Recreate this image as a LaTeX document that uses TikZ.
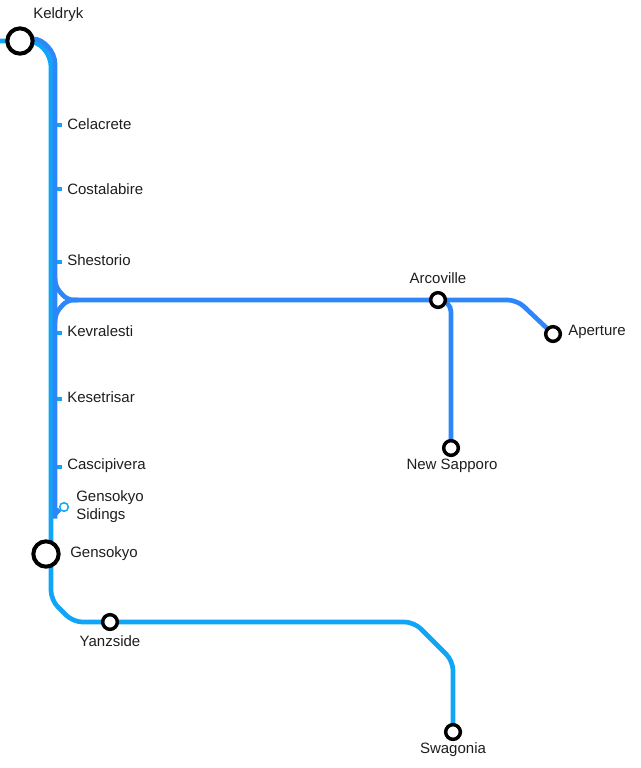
\documentclass[tikz,border=0pt]{standalone}
\usepackage{fontspec}
\setmainfont{Liberation Sans}
\definecolor{lb}{RGB}{16,165,245}
\definecolor{db}{RGB}{45,135,250}
\definecolor{txt}{RGB}{30,30,30}
\pgfdeclarelayer{bg}
\pgfsetlayers{bg,main}
\begin{document}
\begin{tikzpicture}[x=0.75pt,y=-0.75pt,
  lline/.style={draw=lb,line width=3.5pt,rounded corners=7pt},
  dline/.style={draw=db,line width=3.5pt,rounded corners=7pt},
  tick/.style={draw=lb,line width=3pt},
  bigst/.style={circle,draw=black,line width=3pt,fill=white,minimum size=19pt,inner sep=0pt},
  smst/.style={circle,draw=black,line width=2.6pt,fill=white,minimum size=11pt,inner sep=0pt},
  sidst/.style={circle,draw=lb,line width=1.1pt,fill=white,minimum size=6.5pt,inner sep=0pt},
  lbl/.style={text=txt,font=\fontsize{11.25}{13.5}\selectfont,inner sep=0pt},
]
\useasboundingbox (0,0) rectangle (640,768);

% stations
\node[bigst] (kel) at (20,41) {};
\node[bigst] (gen) at (46,554) {};
\node[smst] (arc) at (438,300) {};
\node[smst] (ape) at (553,334) {};
\node[smst] (nsp) at (451,448) {};
\node[smst] (yan) at (110,622) {};
\node[smst] (swa) at (453,732) {};
\node[sidst] (sid) at (64,507) {};

% minor stops (ticks on light line)
\coordinate (cel) at (51,125);
\coordinate (cos) at (51,189);
\coordinate (she) at (51,262);
\coordinate (kev) at (51,333);
\coordinate (kes) at (51,399);
\coordinate (cas) at (51,467);
\coordinate (celE) at (62,125);
\coordinate (cosE) at (62,189);
\coordinate (sheE) at (62,262);
\coordinate (kevE) at (62,333);
\coordinate (kesE) at (62,399);
\coordinate (casE) at (62,467);

% route points
\coordinate (west) at (-6,41);
\coordinate (l1) at (37,41);
\coordinate (l2) at (51,57);
\coordinate (l3) at (51,600);
\coordinate (l4) at (73,622);
\coordinate (l5) at (414,622);
\coordinate (l6) at (453,661);
\coordinate (d1) at (38,37);
\coordinate (d2) at (55,54);
\coordinate (wt0) at (55,278);
\coordinate (wt) at (55,286);
\coordinate (wb) at (55,314);
\coordinate (wb0) at (55,322);
\coordinate (wy) at (67,300);
\coordinate (wh) at (78,300);
\coordinate (dend) at (55,524);
\coordinate (a1) at (517,300);
\coordinate (n1) at (451,300);

\begin{pgfonlayer}{bg}
  % light blue line
  \draw[lline] (west) -- (kel.center) -- (l1) -- (l2) -- (l3) -- (l4) -- (yan.center) -- (l5) -- (l6) -- (swa.center);
  \foreach \a/\b in {cel/celE,cos/cosE,she/sheE,kev/kevE,kes/kesE,cas/casE}
    \draw[tick] (\a) -- (\b);
  % dark blue line
  \draw[dline] (kel.center) -- (d1) -- (d2) -- (dend) .. controls (55,515) and (57,511) .. (sid);
  \draw[dline,rounded corners=5pt] (wt0) -- (wt) -- (wy) -- (wh);
  \draw[dline,rounded corners=5pt] (wh) -- (wy) -- (wb) -- (wb0);
  \draw[dline] (wh) -- (arc.center) -- (a1) -- (ape.center);
  \draw[dline,rounded corners=9pt] (arc.center) -- (n1) -- (nsp.center);
\end{pgfonlayer}

% labels
\node[lbl,anchor=west] (tkel) at (33,15) {Keldryk};
\node[lbl,anchor=west] (tcel) at (67,124) {Celacrete};
\node[lbl,anchor=west] (tcos) at (67,189) {Costalabire};
\node[lbl,anchor=west] (tshe) at (67,260) {Shestorio};
\node[lbl,anchor=west] (tkev) at (67,331) {Kevralesti};
\node[lbl,anchor=west] (tkes) at (67,397) {Kesetrisar};
\node[lbl,anchor=west] (tcas) at (67,466) {Cascipivera};
\node[lbl,anchor=west,align=left] (tsid) at (76,507) {Gensokyo\\Sidings};
\node[lbl,anchor=west] (tgen) at (70,554) {Gensokyo};
\node[lbl] (tarc) at (438,278) {Arcoville};
\node[lbl,anchor=west] (tape) at (568,332) {Aperture};
\node[lbl] (tnsp) at (452,466) {New Sapporo};
\node[lbl] (tyan) at (110,641) {Yanzside};
\node[lbl] (tswa) at (453,750) {Swagonia};
\end{tikzpicture}
\end{document}
